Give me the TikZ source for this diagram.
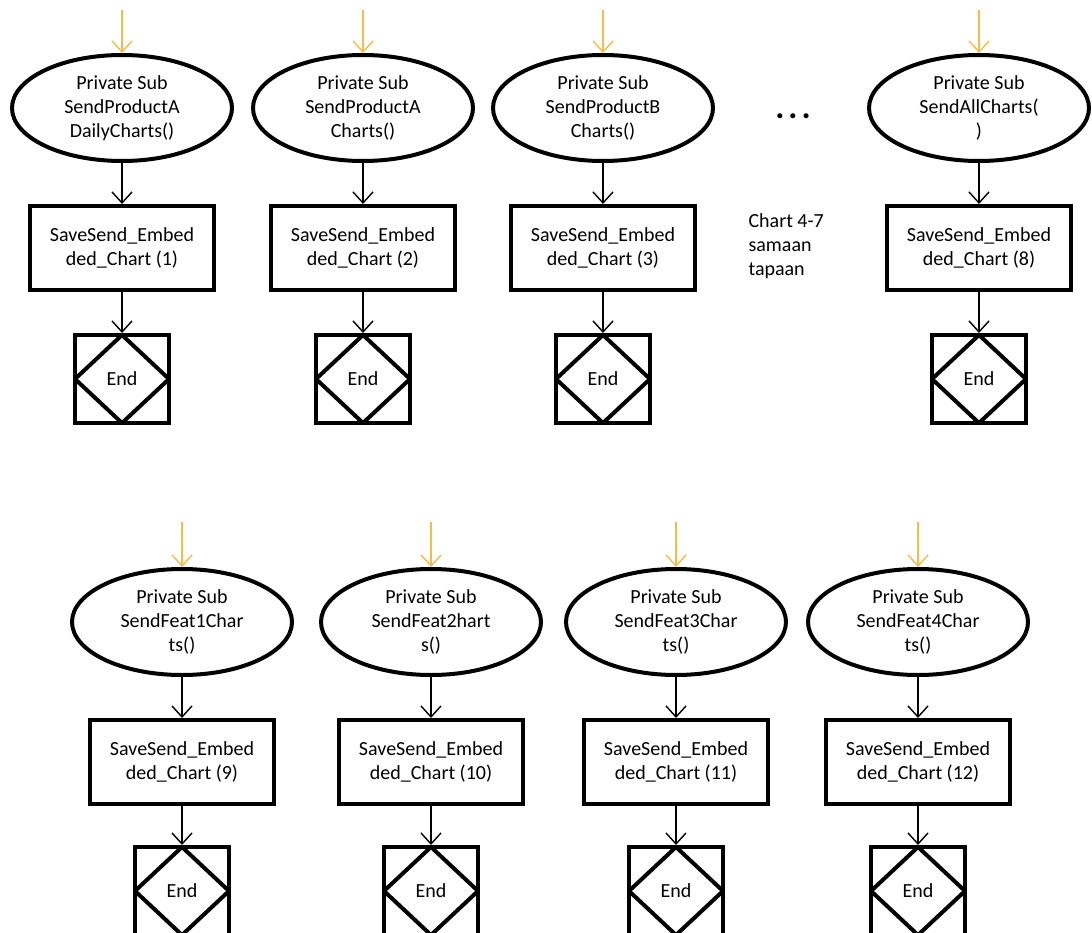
\documentclass[tikz,border=0pt]{standalone}
\usepackage{fontspec}
\setmainfont{Carlito}
\usetikzlibrary{arrows.meta}
\usetikzlibrary{shapes.geometric}

\definecolor{inorange}{RGB}{247,187,72}

\begin{document}
\begin{tikzpicture}[x=1pt,y=-1pt, >={Straight Barb[length=11pt,width=20pt]},
  every node/.style={font=\fontsize{20}{24}\selectfont},
  sub/.style={draw,ellipse,line width=4pt,minimum width=220,minimum height=106,inner sep=0pt,align=center},
  savebox/.style={draw,line width=4pt,minimum width=184,minimum height=84,align=center},
  endbox/.style={draw,line width=4pt,minimum width=94,minimum height=88,
    path picture={\draw[line width=4pt] (path picture bounding box.north)--(path picture bounding box.east)--(path picture bounding box.south)--(path picture bounding box.west)--cycle;}},
  flow/.style={->,line width=1.4pt}]
\useasboundingbox (0,0) rectangle (1092,933);
\clip (0,0) rectangle (1092,933);

% top row
\foreach \x/\i/\fn in {122/1/{SendProductA\\DailyCharts()},363/2/{SendProductA\\Charts()},603/3/{SendProductB\\Charts()},979/8/{SendAllCharts(\\)}} {
  \coordinate (in\i) at (\x,10);
  \node[sub] (sub\i) at (\x,108) {Private Sub\\\fn};
  \node[savebox] (save\i) at (\x,248) {SaveSend\_Embed\\ded\_Chart (\i)};
  \node[endbox] (end\i) at (\x,379) {End};
  \draw[flow,inorange] (in\i) -- (sub\i);
  \draw[flow] (sub\i) -- (save\i);
  \draw[flow] (save\i) -- (end\i);
}
\node[anchor=base] (dots) at (793,119) {\fontsize{34}{34}\selectfont\bfseries .\kern4pt.\kern4pt.};
\node[anchor=west,align=left] (note) at (745,246) {Chart 4-7\\samaan\\tapaan};

% bottom row
\foreach \x/\i/\fn in {182/9/{SendFeat1Char\\ts()},431/10/{SendFeat2hart\\s()},676/11/{SendFeat3Char\\ts()},918/12/{SendFeat4Char\\ts()}} {
  \coordinate (in\i) at (\x,522);
  \node[sub] (sub\i) at (\x,622) {Private Sub\\\fn};
  \node[savebox] (save\i) at (\x,762) {SaveSend\_Embed\\ded\_Chart (\i)};
  \node[endbox] (end\i) at (\x,891) {End};
  \draw[flow,inorange] (in\i) -- (sub\i);
  \draw[flow] (sub\i) -- (save\i);
  \draw[flow] (save\i) -- (end\i);
}

\end{tikzpicture}
\end{document}
